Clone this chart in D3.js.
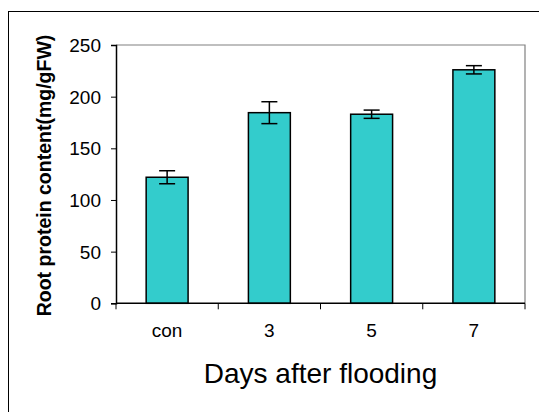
<!DOCTYPE html>
<html>
<head>
<meta charset="utf-8">
<title>Root protein content</title>
<script src="https://cdn.jsdelivr.net/npm/d3@7"></script>
<style>
  body { margin: 0; background: #fff; }
  svg text { font-family: Arial, "Liberation Sans", sans-serif; fill: #000; }
</style>
</head>
<body>
<div id="chart"></div>
<script>
// chart values
var categories = ["con", "3", "5", "7"];
var means = [122, 184.5, 183, 226];
var errors = [6.3, 10.6, 4, 4];
var yTicks = [0, 50, 100, 150, 200, 250];

var width = 539, height = 412;
var margin = {left: 116, top: 45, right: 14, bottom: 109};

var svg = d3.select("#chart").append("svg")
	.attr("width", width)
	.attr("height", height);

// outer frame (right and bottom edges fall outside the picture)
svg.append("rect")
	.attr("x", 8.5).attr("y", 11.5)
	.attr("width", 540).attr("height", 410)
	.style("fill", "none").style("stroke", "#000").style("stroke-width", 1);

var x = d3.scaleBand()
	.domain(categories)
	.range([margin.left, width - margin.right])
	.paddingInner(0.59)
	.paddingOuter(0.295);

var y = d3.scaleLinear()
	.domain([0, 250])
	.range([height - margin.bottom + 0.3, margin.top]);

// plot frame, top and right in gray
svg.append("path")
	.attr("d", "M" + x.range()[0] + "," + y(250) + "H" + x.range()[1] + "V" + y(0))
	.style("fill", "none").style("stroke", "#808080").style("stroke-width", 1.2);

// bars
svg.selectAll("rect.bar")
	.data(means)
	.enter()
	.append("rect")
	.attr("class", "bar")
	.attr("x", function(d, i){ return x(categories[i]); })
	.attr("y", function(d){ return y(d); })
	.attr("width", x.bandwidth())
	.attr("height", function(d){ return y(0) - y(d); })
	.style("fill", "#33CCCC")
	.style("stroke", "#000")
	.style("stroke-width", 1.5);

// error bars
var err = svg.selectAll("g.err")
	.data(means)
	.enter()
	.append("g")
	.attr("class", "err")
	.style("stroke", "#000")
	.style("stroke-width", 1.5);

err.append("line")
	.attr("x1", function(d, i){ return x(categories[i]) + x.bandwidth() / 2; })
	.attr("x2", function(d, i){ return x(categories[i]) + x.bandwidth() / 2; })
	.attr("y1", function(d, i){ return y(d + errors[i]); })
	.attr("y2", function(d, i){ return y(d - errors[i]); });

[1, -1].forEach(function(s) {
	err.append("line")
		.attr("x1", function(d, i){ return x(categories[i]) + x.bandwidth() / 2 - 8; })
		.attr("x2", function(d, i){ return x(categories[i]) + x.bandwidth() / 2 + 8; })
		.attr("y1", function(d, i){ return y(d + s * errors[i]); })
		.attr("y2", function(d, i){ return y(d + s * errors[i]); });
});

// y axis
var yAxis = svg.append("g")
	.attr("transform", "translate(" + margin.left + ",0)")
	.call(d3.axisLeft(y).tickValues(yTicks).tickSize(5).tickPadding(10));
yAxis.selectAll("text").style("font-size", "19px").attr("dy", "0.35em");

// x axis, ticks sit between categories
var xAxis = svg.append("g")
	.attr("transform", "translate(0," + y(0) + ")");
xAxis.append("line")
	.attr("x1", x.range()[0]).attr("x2", x.range()[1])
	.style("stroke", "#000").style("stroke-width", 1.5);
var step = x.step();
xAxis.selectAll("line.tick")
	.data(d3.range(categories.length + 1))
	.enter()
	.append("line")
	.attr("class", "tick")
	.attr("x1", function(d){ return x.range()[0] + d * step; })
	.attr("x2", function(d){ return x.range()[0] + d * step; })
	.attr("y1", 0).attr("y2", 6)
	.style("stroke", "#000").style("stroke-width", 1);
xAxis.selectAll("text")
	.data(categories)
	.enter()
	.append("text")
	.attr("x", function(d){ return x(d) + x.bandwidth() / 2; })
	.attr("y", 34)
	.attr("text-anchor", "middle")
	.style("font-size", "19px")
	.text(function(d){ return d; });

yAxis.select(".domain").style("stroke", "#000").style("stroke-width", 1.5);
yAxis.selectAll(".tick line").style("stroke", "#000");

// axis titles
svg.append("text")
	.attr("x", (x.range()[0] + x.range()[1]) / 2)
	.attr("y", 383)
	.attr("text-anchor", "middle")
	.style("font-size", "28px")
	.text("Days after flooding");

svg.append("text")
	.attr("transform", "translate(51," + 175.5 + ") rotate(-90)")
	.attr("text-anchor", "middle")
	.style("font-size", "19.5px")
	.style("font-weight", "bold")
	.text("Root protein content(mg/gFW)");
</script>
</body>
</html>
